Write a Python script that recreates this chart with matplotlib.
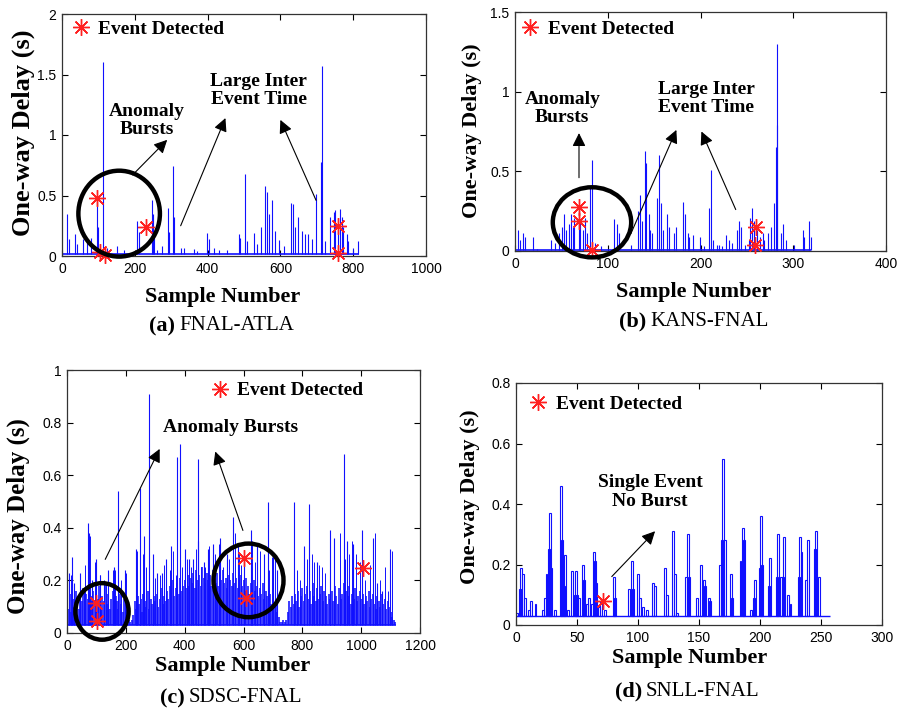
import numpy as np
import matplotlib.pyplot as plt
from matplotlib.patches import Ellipse
from matplotlib.ticker import FuncFormatter

# ---- (a) FNAL-ATLA : spikes (sample, delay) ----
a_x = [13, 18, 36, 41, 57, 70, 81, 95, 100, 113, 123, 152, 169, 207, 212, 246, 249, 253, 262, 276,
       291, 294, 305, 308, 326, 335, 362, 372, 397, 404, 417, 431, 454, 486, 490, 504, 509, 527, 536, 547,
       557, 563, 568, 577, 586, 595, 609, 630, 634, 641, 648, 659, 668, 677, 687, 698, 711, 714, 723, 737,
       746, 750, 757, 764, 769, 773, 782, 787, 800, 812]
a_y = [0.35, 0.14, 0.18, 0.10, 0.14, 0.12, 0.15, 0.49, 0.24, 1.60, 0.07, 0.08, 0.05, 0.29, 0.20, 0.46, 0.35, 0.18, 0.05, 0.08,
       0.40, 0.20, 0.74, 0.32, 0.07, 0.07, 0.06, 0.04, 0.19, 0.14, 0.07, 0.05, 0.05, 0.18, 0.15, 0.68, 0.12, 0.19, 0.10, 0.24,
       0.58, 0.53, 0.35, 0.46, 0.21, 0.13, 0.08, 0.44, 0.43, 0.24, 0.32, 0.21, 0.18, 0.18, 0.14, 0.51, 0.78, 1.57, 0.12, 0.32,
       0.36, 0.38, 0.29, 0.39, 0.32, 0.24, 0.18, 0.12, 0.07, 0.12]
a_base = 0.015
a_end = 815
a_ev_x = [95, 104, 119, 230, 758, 757]
a_ev_y = [0.48, 0.036, 0.008, 0.236, 0.244, 0.022]

# ---- (b) KANS-FNAL ----
b_x = [3, 5, 9, 11, 19, 24, 39, 43, 47, 51, 53, 55, 58, 60, 62, 64, 69, 70, 73, 76,
       78, 81, 83, 86, 93, 107, 110, 112, 125, 133, 135, 137, 140, 141, 144, 146, 148, 153, 155, 157,
       160, 164, 166, 171, 174, 181, 183, 186, 188, 192, 199, 204, 209, 211, 213, 218, 220, 223, 227, 231,
       234, 239, 242, 244, 248, 252, 253, 256, 258, 261, 264, 267, 269, 273, 276, 279, 281, 282, 283, 287,
       289, 292, 301, 310, 312, 317, 319]
b_y = [0.13, 0.07, 0.11, 0.09, 0.09, 0.01, 0.07, 0.05, 0.11, 0.15, 0.23, 0.13, 0.17, 0.23, 0.15, 0.21, 0.27, 0.19, 0.13, 0.21,
       0.11, 0.40, 0.57, 0.05, 0.03, 0.20, 0.17, 0.11, 0.04, 0.25, 0.35, 0.19, 0.63, 0.55, 0.23, 0.13, 0.11, 0.33, 0.60, 0.30,
       0.13, 0.23, 0.15, 0.11, 0.15, 0.31, 0.23, 0.11, 0.09, 0.10, 0.09, 0.03, 0.27, 0.51, 0.07, 0.04, 0.04, 0.03, 0.10, 0.07,
       0.05, 0.13, 0.19, 0.15, 0.04, 0.07, 0.21, 0.27, 0.19, 0.13, 0.09, 0.11, 0.07, 0.11, 0.15, 0.30, 0.65, 0.79, 1.30, 0.11,
       0.17, 0.07, 0.04, 0.13, 0.09, 0.19, 0.09]
b_base = 0.005
b_end = 319
b_ev_x = [69, 69, 83, 260, 259]
b_ev_y = [0.274, 0.19, 0.004, 0.15, 0.035]

# ---- (c) SDSC-FNAL : tall spikes, mid spikes, dense body (one value every 5 samples) ----
c_x = [6, 17, 25, 43, 57, 70, 74, 85, 98, 113, 127, 141, 161, 172, 198, 234, 249, 263, 278, 294,
       306, 323, 336, 353, 374, 385, 402, 415, 428, 444, 447, 466, 481, 498, 521, 543, 566, 583, 600, 625,
       645, 671, 683, 700, 715, 770, 804, 821, 849, 894, 909, 940, 951, 973, 1002, 1039, 1053, 1070, 1098]
c_y = [0.23, 0.29, 0.19, 0.23, 0.17, 0.42, 0.38, 0.20, 0.28, 0.22, 0.20, 0.24, 0.25, 0.54, 0.24, 0.32, 0.55, 0.37, 0.91, 0.30,
       0.23, 0.23, 0.28, 0.33, 0.67, 0.72, 0.32, 0.28, 0.28, 0.35, 0.66, 0.27, 0.32, 0.34, 0.36, 0.30, 0.44, 0.33, 0.28, 0.39,
       0.33, 0.30, 0.50, 0.29, 0.24, 0.50, 0.33, 0.49, 0.27, 0.39, 0.36, 0.68, 0.35, 0.34, 0.39, 0.36, 0.19, 0.16, 0.32]
c_mid_x = [14, 45, 62, 77, 94, 113, 134, 155, 164, 183, 200, 238, 249, 258, 268, 280, 292, 300, 315, 329,
           349, 360, 371, 391, 408, 421, 437, 456, 469, 484, 504, 518, 530, 552, 572, 586, 591, 629, 640, 657,
           668, 688, 696, 708, 781, 792, 806, 815, 832, 840, 855, 866, 877, 894, 906, 928, 945, 957, 968, 983,
           996, 1013, 1030, 1047, 1064, 1081, 1092, 1104]
c_mid_y = [0.22, 0.22, 0.26, 0.37, 0.27, 0.22, 0.19, 0.24, 0.24, 0.20, 0.23, 0.31, 0.29, 0.30, 0.25, 0.23, 0.29, 0.21, 0.22, 0.26,
           0.24, 0.31, 0.22, 0.25, 0.28, 0.25, 0.32, 0.25, 0.25, 0.33, 0.30, 0.34, 0.25, 0.28, 0.38, 0.30, 0.26, 0.35, 0.27, 0.31,
           0.25, 0.24, 0.29, 0.30, 0.24, 0.20, 0.30, 0.28, 0.30, 0.27, 0.26, 0.25, 0.23, 0.38, 0.30, 0.38, 0.28, 0.30, 0.35, 0.30,
           0.27, 0.20, 0.26, 0.38, 0.20, 0.25, 0.16, 0.31]
c_dense = [0.12, 0.09, 0.15, 0.08, 0.13, 0.10, 0.16, 0.11, 0.09, 0.14, 0.12, 0.17, 0.10, 0.15, 0.13, 0.18, 0.12, 0.14, 0.16, 0.11,
           0.15, 0.13, 0.18, 0.10, 0.14, 0.12, 0.19, 0.11, 0.15, 0.09, 0.13, 0.16, 0.10, 0.14, 0.12, 0.09, 0.15, 0.11, 0.08, 0.13,
           0.10, 0.06, 0.05, 0.04, 0.05, 0.07, 0.12, 0.09, 0.14, 0.11, 0.13, 0.08, 0.15, 0.10, 0.12, 0.16, 0.09, 0.13, 0.11, 0.14,
           0.12, 0.15, 0.10, 0.13, 0.17, 0.11, 0.14, 0.12, 0.16, 0.13, 0.18, 0.15, 0.20, 0.14, 0.17, 0.19, 0.15, 0.21, 0.16, 0.18,
           0.20, 0.17, 0.22, 0.18, 0.21, 0.19, 0.23, 0.17, 0.24, 0.20, 0.22, 0.18, 0.25, 0.21, 0.19, 0.23, 0.20, 0.22, 0.18, 0.24,
           0.21, 0.19, 0.23, 0.18, 0.22, 0.20, 0.24, 0.19, 0.21, 0.17, 0.22, 0.20, 0.18, 0.23, 0.19, 0.21, 0.17, 0.20, 0.22, 0.18,
           0.20, 0.16, 0.21, 0.18, 0.15, 0.19, 0.17, 0.20, 0.16, 0.18, 0.14, 0.17, 0.15, 0.19, 0.13, 0.16, 0.14, 0.12, 0.15, 0.11,
           0.13, 0.10, 0.12, 0.08, 0.06, 0.04, 0.04, 0.05, 0.04, 0.05, 0.08, 0.12, 0.10, 0.14, 0.11, 0.15, 0.12, 0.16, 0.10, 0.14,
           0.17, 0.12, 0.15, 0.18, 0.13, 0.16, 0.11, 0.19, 0.14, 0.12, 0.17, 0.13, 0.15, 0.18, 0.12, 0.16, 0.14, 0.11, 0.15, 0.13,
           0.16, 0.12, 0.18, 0.14, 0.11, 0.17, 0.13, 0.15, 0.19, 0.12, 0.16, 0.14, 0.18, 0.11, 0.15, 0.13, 0.17, 0.12, 0.14, 0.16,
           0.13, 0.15, 0.11, 0.14, 0.12, 0.16, 0.10, 0.13, 0.15, 0.11, 0.09, 0.14, 0.12, 0.10, 0.15, 0.11, 0.13, 0.09, 0.12, 0.10,
           0.08, 0.06, 0.05, 0.04]
c_step = 5
c_base = 0.03
c_end = 1118
c_ev_x = [98, 102, 602, 609, 1005]
c_ev_y = [0.114, 0.044, 0.285, 0.133, 0.247]

# ---- (d) SNLL-FNAL ----
d_x = [1, 3, 4, 6, 7, 11, 12, 16, 22, 24, 25, 27, 28, 29, 32, 37, 38, 39, 40, 43,
       46, 48, 49, 50, 52, 55, 56, 58, 60, 62, 64, 65, 66, 68, 70, 73, 80, 81, 93, 95,
       96, 100, 102, 104, 107, 112, 114, 122, 124, 129, 130, 132, 139, 141, 142, 148, 152, 154, 155, 158,
       159, 167, 169, 170, 171, 176, 177, 184, 186, 187, 193, 195, 196, 200, 201, 202, 207, 208, 214, 215,
       217, 219, 220, 223, 225, 232, 233, 234, 238, 239, 245, 246, 248]
d_y = [0.04, 0.12, 0.19, 0.17, 0.09, 0.05, 0.08, 0.07, 0.05, 0.09, 0.17, 0.25, 0.37, 0.19, 0.05, 0.46, 0.28, 0.13, 0.23, 0.05,
       0.18, 0.10, 0.18, 0.10, 0.09, 0.20, 0.15, 0.07, 0.09, 0.07, 0.24, 0.21, 0.14, 0.06, 0.08, 0.05, 0.16, 0.09, 0.12, 0.21,
       0.12, 0.17, 0.09, 0.06, 0.05, 0.14, 0.13, 0.19, 0.10, 0.31, 0.17, 0.04, 0.16, 0.30, 0.16, 0.09, 0.20, 0.15, 0.13, 0.09,
       0.08, 0.20, 0.28, 0.55, 0.28, 0.17, 0.09, 0.21, 0.32, 0.28, 0.05, 0.09, 0.15, 0.19, 0.36, 0.20, 0.13, 0.22, 0.16, 0.30,
       0.16, 0.16, 0.29, 0.10, 0.07, 0.16, 0.29, 0.24, 0.15, 0.28, 0.25, 0.31, 0.16]
d_base = 0.03
d_end = 257
d_ev_x = [71]
d_ev_y = [0.08]

W, H = 899, 717
BLUE = '#1010ff'
SERIF = 'Liberation Serif'
SANS = 'Liberation Sans'
TXT = dict(fontfamily=SERIF, fontweight='bold', fontsize=14, ha='center', va='center', linespacing=1.1)

fig = plt.figure(figsize=(W / 100, H / 100), dpi=100)


def box(l, t, r, b):
    return [l / W, 1 - b / H, (r - l) / W, (b - t) / H]


def panel(rect, xlim, xticks, ylim, yticks):
    ax = fig.add_axes(rect)
    ax.set_xlim(*xlim)
    ax.set_ylim(*ylim)
    ax.set_xticks(xticks)
    ax.set_yticks(yticks)
    fmt = FuncFormatter(lambda v, p: '%g' % v)
    ax.xaxis.set_major_formatter(fmt)
    ax.yaxis.set_major_formatter(fmt)
    ax.tick_params(direction='in', length=4, width=0.8, top=True, right=True,
                   labelsize=10, pad=4)
    for lab in ax.get_xticklabels() + ax.get_yticklabels():
        lab.set_family(SANS)
    for s in ax.spines.values():
        s.set_linewidth(0.9)
        s.set_color('#333333')
    return ax


def events(ax, ex, ey, loc):
    h, = ax.plot(ex, ey, ls='none', marker=(8, 2, 0), ms=12, mew=1.0,
                 color='#ff2020', label='Event Detected', zorder=5, clip_on=False)
    ax.legend(handles=[h], loc='upper left', bbox_to_anchor=loc, frameon=False,
              handlelength=0.8, handletextpad=0.5, borderaxespad=0, borderpad=0,
              prop=dict(family=SERIF, weight='bold', size=14))


def arrow(ax, start, end):
    ax.annotate('', xy=end, xytext=start,
                arrowprops=dict(arrowstyle='-|>', lw=0.8, color='black',
                                mutation_scale=20, shrinkA=0, shrinkB=0))


def ring(ax, c, w, h):
    ax.add_patch(Ellipse(c, w, h, fill=False, lw=3.2, ec='black', clip_on=False, zorder=6))


def titles(xc, y_sn, y_cap, letter, name, ylx, yly, ysize):
    fig.text(xc / W, 1 - y_sn / H, 'Sample Number', family=SERIF, weight='bold',
             size=16, ha='center', va='center')
    fig.text((xc - 48) / W, 1 - y_cap / H, letter, family=SERIF, weight='bold',
             size=16, ha='right', va='center')
    fig.text((xc - 44) / W, 1 - y_cap / H, name, family=SERIF,
             size=15, ha='left', va='center')
    fig.text(ylx / W, 1 - yly / H, 'One-way Delay (s)', family=SERIF, weight='bold',
             size=ysize, rotation=90, ha='center', va='center')


# (a)
ax = panel(box(62, 14, 426, 256), (0, 1000), range(0, 1001, 200), (0, 2), [0, 0.5, 1, 1.5, 2])
ax.hlines(a_base, 0, a_end, color=BLUE, lw=1.2)
ax.vlines(a_x, a_base, a_y, color=BLUE, lw=0.8)
events(ax, a_ev_x, a_ev_y, (0.03, 0.975))
ring(ax, (157, 0.35), 224, 0.71)
ax.text(234, 1.12, 'Anomaly\nBursts', **TXT)
ax.text(541, 1.37, 'Large Inter\nEvent Time', **TXT)
arrow(ax, (194, 0.67), (289, 0.96))
arrow(ax, (326, 0.25), (449, 1.14))
arrow(ax, (698, 0.46), (600, 1.125))
titles(223, 297, 326, '(a)', 'FNAL-ATLA', 23, 133, 19)

# (b)
ax = panel(box(515, 12, 886, 251), (0, 400), range(0, 401, 100), (0, 1.5), [0, 0.5, 1, 1.5])
ax.hlines(b_base, 0, b_end, color=BLUE, lw=1.2)
ax.vlines(b_x, b_base, b_y, color=BLUE, lw=0.8)
events(ax, b_ev_x, b_ev_y, (0.02, 0.965))
ring(ax, (83, 0.18), 84.5, 0.44)
ax.text(51, 0.895, 'Anomaly\nBursts', **TXT)
ax.text(206, 0.955, 'Large Inter\nEvent Time', **TXT)
arrow(ax, (69, 0.46), (69, 0.74))
arrow(ax, (125, 0.11), (174, 0.76))
arrow(ax, (238, 0.26), (201, 0.75))
titles(694, 292, 321, '(b)', 'KANS-FNAL', 472, 131, 16)

# (c)
ax = panel(box(67, 370, 420, 633), (0, 1200), range(0, 1201, 200), (0, 1), [0, 0.2, 0.4, 0.6, 0.8, 1])
ax.hlines(c_base, 0, c_end, color=BLUE, lw=1.2)
ax.vlines(np.arange(len(c_dense)) * c_step, c_base, c_dense, color=BLUE, lw=1.15)
ax.vlines(c_mid_x, c_base, c_mid_y, color=BLUE, lw=0.7)
ax.vlines(c_x, c_base, c_y, color=BLUE, lw=0.8)
events(ax, c_ev_x, c_ev_y, (0.41, 0.955))
ring(ax, (119, 0.082), 181, 0.215)
ring(ax, (617, 0.2), 238, 0.28)
ax.text(555, 0.78, 'Anomaly Bursts', **TXT)
arrow(ax, (130, 0.28), (315, 0.70))
arrow(ax, (598, 0.39), (504, 0.69))
titles(233, 666, 698, '(c)', 'SDSC-FNAL', 18, 516, 18)

# (d)
ax = panel(box(516, 383, 882, 625), (0, 300), range(0, 301, 50), (0, 0.8), [0, 0.2, 0.4, 0.6, 0.8])
ax.hlines(d_base, 0, d_end, color=BLUE, lw=1.0)
ax.bar(d_x, np.array(d_y) - d_base, width=1.6, bottom=d_base, fill=False,
       edgecolor=BLUE, lw=0.8)
events(ax, d_ev_x, d_ev_y, (0.04, 0.95))
ax.text(110, 0.44, 'Single Event\nNo Burst', **TXT)
arrow(ax, (78.5, 0.16), (114, 0.31))
titles(690, 658, 691, '(d)', 'SNLL-FNAL', 470, 497, 16)

fig.savefig('out.png', dpi=100)
